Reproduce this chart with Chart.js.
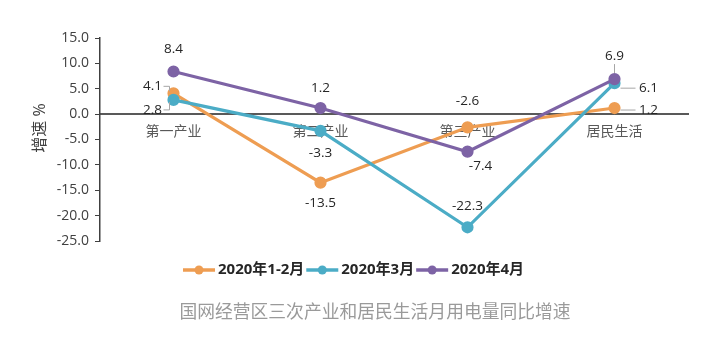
<!DOCTYPE html>
<html lang="zh">
<head>
<meta charset="UTF-8">
<title>用电量同比增速</title>
<script src="https://cdn.jsdelivr.net/npm/chart.js"></script>
<style>
    html, body { margin: 0; padding: 0; background: #ffffff; }
    .wrap { width: 724px; height: 341px; position: relative; }
</style>
</head>
<body>
<div class="wrap"><canvas id="rateChart"></canvas></div>
<script>
    const categories = ['第一产业', '第二产业', '第三产业', '居民生活'];
    const seriesNames = ['2020年1-2月', '2020年3月', '2020年4月'];
    const janFeb = [4.1, -13.5, -2.6, 1.2];
    const march = [2.8, -3.3, -22.3, 6.1];
    const april = [8.4, 1.2, -7.4, 6.9];
    const yTicks = [15, 10, 5, 0, -5, -10, -15, -20, -25];
    const caption = '国网经营区三次产业和居民生活月用电量同比增速';

    const colors = ['#ee9d52', '#4bacc6', '#7d63a5'];
    const FONT = '"Open Sans", "Noto Sans CJK SC", sans-serif';

    // where each value label sits relative to its point: [dx, dy, leader]
    const labelPlace = [
        [[-21, -7, 'bracketDown'], [0, 21, null], [0, -26, null], [34, 2, 'line']],
        [[-21, 10, 'bracketUp'], [0, 22, null], [0, -21, null], [34, 5, 'line']],
        [[0, -22, null], [0, -20, null], [13, 14, null], [0, -23, 'vline']]
    ];

    const valueLabels = {
        id: 'valueLabels',
        afterDatasetsDraw(chart) {
            const ctx = chart.ctx;
            ctx.save();
            ctx.font = '13.5px ' + FONT;
            ctx.fillStyle = '#262626';
            ctx.textAlign = 'center';
            ctx.textBaseline = 'middle';
            chart.data.datasets.forEach((ds, di) => {
                const meta = chart.getDatasetMeta(di);
                meta.data.forEach((pt, i) => {
                    const [dx, dy, leader] = labelPlace[di][i];
                    const lx = pt.x + dx, ly = pt.y + dy;
                    ctx.strokeStyle = '#a6a6a6';
                    ctx.lineWidth = 1;
                    ctx.beginPath();
                    if (leader === 'bracketDown') {
                        ctx.moveTo(lx + 11, ly); ctx.lineTo(lx + 17, ly); ctx.lineTo(lx + 17, pt.y - 2);
                    } else if (leader === 'bracketUp') {
                        ctx.moveTo(lx + 11, ly); ctx.lineTo(lx + 17, ly); ctx.lineTo(lx + 17, pt.y + 2);
                    } else if (leader === 'line') {
                        ctx.moveTo(pt.x + 6, ly); ctx.lineTo(lx - 13, ly);
                    } else if (leader === 'vline') {
                        ctx.moveTo(pt.x, ly + 8); ctx.lineTo(pt.x, pt.y - 6);
                    }
                    ctx.stroke();
                    ctx.fillText(ds.data[i].toFixed(1), lx, ly);
                });
            });
            ctx.restore();
        }
    };

    // legend row, y-axis title and caption underneath
    const extras = {
        id: 'extras',
        afterDraw(chart) {
            const ctx = chart.ctx;
            ctx.save();
            ctx.font = 'bold 15px ' + FONT;
            ctx.textBaseline = 'middle';
            ctx.textAlign = 'left';
            let x = 183;
            const y = 270;
            chart.data.datasets.forEach((ds, di) => {
                ctx.strokeStyle = colors[di];
                ctx.lineWidth = 3.5;
                ctx.beginPath();
                ctx.moveTo(x, y); ctx.lineTo(x + 32, y);
                ctx.stroke();
                ctx.fillStyle = colors[di];
                ctx.beginPath();
                ctx.arc(x + 16, y, 4.5, 0, Math.PI * 2);
                ctx.fill();
                ctx.fillStyle = '#262626';
                ctx.fillText(ds.label, x + 35, y);
                x += 35 + ctx.measureText(ds.label).width + 2;
            });

            ctx.fillStyle = '#404040';
            ctx.font = '16px ' + FONT;
            ctx.textAlign = 'center';
            ctx.translate(40, 128);
            ctx.rotate(-Math.PI / 2);
            ctx.fillText('增速 %', 0, 0);
            ctx.setTransform(1, 0, 0, 1, 0, 0);

            ctx.fillStyle = '#9a9a9a';
            ctx.font = '17.8px ' + FONT;
            ctx.fillText(caption, 375, 313);
            ctx.restore();
        }
    };

    const series = [janFeb, march, april];

    new Chart(document.getElementById('rateChart'), {
        type: 'line',
        data: {
            labels: categories,
            datasets: series.map((vals, i) => ({
                label: seriesNames[i],
                data: vals,
                borderColor: colors[i],
                backgroundColor: colors[i],
                borderWidth: 3.2,
                pointRadius: 4.5,
                pointHoverRadius: 4.5,
                tension: 0,
                order: i === 1 ? 1 : (i === 0 ? 2 : 0)
            }))
        },
        options: {
            responsive: true,
            maintainAspectRatio: false,
            animation: false,
            events: [],
            layout: { padding: { top: 38, right: 36, bottom: 100, left: 0 } },
            plugins: {
                legend: { display: false },
                tooltip: { enabled: false }
            },
            scales: {
                x: {
                    position: { y: 0 },
                    offset: true,
                    grid: { display: false, drawTicks: false },
                    border: { color: '#595959', width: 2 },
                    ticks: {
                        padding: 9,
                        color: '#595959',
                        font: { family: FONT, size: 14 }
                    }
                },
                y: {
                    min: -25,
                    max: 15,
                    afterBuildTicks(scale) {
                        scale.ticks = yTicks.map(v => ({ value: v }));
                    },
                    afterFit(scale) { scale.width = 100; },
                    grid: { drawOnChartArea: false, drawTicks: true, tickLength: 5, color: '#404040' },
                    border: { color: '#404040', width: 1.5 },
                    ticks: {
                        padding: 6,
                        color: '#404040',
                        font: { family: FONT, size: 14 },
                        callback: v => v.toFixed(1)
                    }
                }
            }
        },
        plugins: [valueLabels, extras]
    });
</script>
</body>
</html>
